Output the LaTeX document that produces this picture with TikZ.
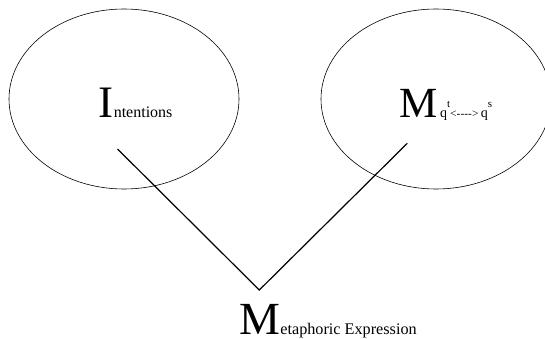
\documentclass[tikz,border=0pt]{standalone}
\usepackage{fontspec}
\setmainfont{Liberation Serif}
\usepackage{tikz}
\usetikzlibrary{shapes.geometric, positioning}

\tikzset{
    region/.style={draw=black, line width=0.6pt, ellipse, inner sep=0pt, minimum width=230pt, minimum height=180pt},
    caption/.style={anchor=base west, inner sep=0pt, outer sep=0pt},
    link/.style={draw=black, line width=1.2pt}
}

\begin{document}
\begin{tikzpicture}[x=1pt, y=-1pt]
        \useasboundingbox (0,0) rectangle (545,339);

        % Two regions
        \node[region] (intent) at (124,99) {};
        \node[region] (mapping) at (436,99) {};

        % Labels in the regions
        \node[caption] (intentlbl) at (98.8,117.3) {\fontsize{45}{45}\selectfont I\fontsize{16}{16}\selectfont ntentions};
        \node[caption] (mappinglbl) at (399.6,117.5) {\fontsize{43}{43}\selectfont M\fontsize{14}{14}\selectfont\,q\raisebox{10pt}{\fontsize{11}{11}\selectfont t}{\fontsize{11.5}{12}\selectfont <-{}-{}-{}->}\,q\raisebox{10pt}{\fontsize{11}{11}\selectfont s}};

        % Bottom label
        \node[caption] (metaphor) at (239.5,334) {\fontsize{46}{46}\selectfont M\fontsize{16.2}{17}\selectfont etaphoric Expression};

        % Connector
        \coordinate (intentpt) at (117.5,149);
        \coordinate (mappingpt) at (407.3,143.3);
        \coordinate (vertex) at (259.3,290);
        \draw[link] (intentpt) -- (vertex) -- (mappingpt);
    \end{tikzpicture}
\end{document}
